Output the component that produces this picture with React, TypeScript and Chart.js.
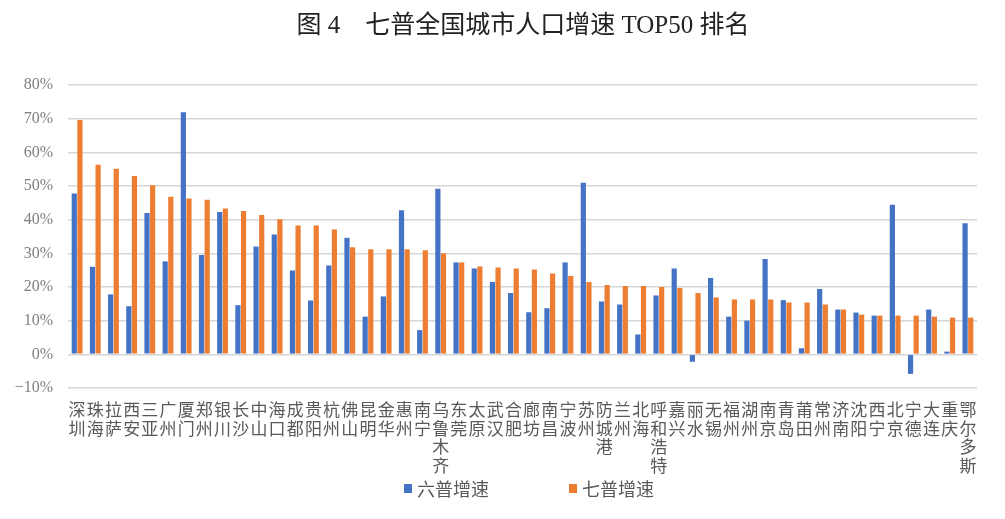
import React, { useEffect, useRef } from "react";
import { Chart, registerables } from "chart.js";

Chart.register(...registerables);

const cities: string[] = [
  "深圳", "珠海", "拉萨", "西安", "三亚", "广州", "厦门", "郑州", "银川", "长沙",
  "中山", "海口", "成都", "贵阳", "杭州", "佛山", "昆明", "金华", "惠州", "南宁",
  "乌鲁木齐", "东莞", "太原", "武汉", "合肥", "廊坊", "南昌", "宁波", "苏州", "防城港",
  "兰州", "北海", "呼和浩特", "嘉兴", "丽水", "无锡", "福州", "湖州", "南京", "青岛",
  "莆田", "常州", "济南", "沈阳", "西宁", "北京", "宁德", "大连", "重庆", "鄂尔多斯",
];

const sixthCensus: number[] = [
  47.8, 26.0, 17.8, 14.3, 42.0, 27.6, 71.9, 29.5, 42.3, 14.6,
  32.0, 35.6, 24.9, 16.0, 26.4, 34.6, 11.2, 17.2, 42.8, 7.2,
  49.2, 27.3, 25.5, 21.5, 18.2, 12.5, 13.7, 27.3, 51.0, 15.7,
  14.8, 5.9, 17.5, 25.5, -2.2, 22.7, 11.2, 10.0, 28.3, 16.1,
  1.8, 19.4, 13.3, 12.4, 11.5, 44.4, -5.8, 13.3, 0.8, 38.9,
];

const seventhCensus: number[] = [
  69.6, 56.3, 55.1, 53.0, 50.2, 46.8, 46.3, 45.9, 43.3, 42.6,
  41.4, 40.1, 38.3, 38.3, 37.1, 31.8, 31.2, 31.2, 31.2, 30.9,
  30.0, 27.3, 26.1, 25.8, 25.5, 25.2, 24.0, 23.3, 21.5, 20.6,
  20.3, 20.3, 20.0, 19.7, 18.2, 16.9, 16.3, 16.3, 16.3, 15.4,
  15.4, 14.8, 13.3, 11.8, 11.5, 11.5, 11.5, 11.2, 10.9, 10.9,
];

const seriesNames: string[] = ["六普增速", "七普增速"];
const seriesColors: string[] = ["#4472C4", "#ED7D31"];
const titleText = "图 4　七普全国城市人口增速 TOP50 排名";

export default function App() {
  const ref = useRef<HTMLCanvasElement | null>(null);

  useEffect(() => {
    if (!ref.current) return;
    const labels = cities.map((c) => c.split(""));
    const chart = new Chart(ref.current, {
      type: "bar",
      data: {
        labels,
        datasets: [
          {
            label: seriesNames[0],
            data: sixthCensus,
            backgroundColor: seriesColors[0],
            categoryPercentage: 0.62,
            barPercentage: 0.92,
          },
          {
            label: seriesNames[1],
            data: seventhCensus,
            backgroundColor: seriesColors[1],
            categoryPercentage: 0.62,
            barPercentage: 0.92,
          },
        ],
      },
      options: {
        responsive: false,
        animation: false,
        layout: { padding: { left: 0, right: 28, top: 85, bottom: 31 } },
        plugins: {
          title: { display: false },
          legend: { display: false },
          tooltip: { enabled: false },
        },
        scales: {
          x: {
            afterFit: (scale: any) => {
              scale.height = 100;
            },
            grid: { display: false, drawTicks: false },
            border: { display: false },
            ticks: {
              autoSkip: false,
              maxRotation: 0,
              minRotation: 0,
              padding: 12,
              color: "#595959",
              font: { family: "'Noto Sans CJK SC', sans-serif", size: 17, lineHeight: 1.1 },
            },
          },
          y: {
            min: -10,
            max: 80,
            afterFit: (scale: any) => {
              scale.width = 68;
            },
            grid: { color: "#d6d6d6", lineWidth: 1.5, drawTicks: false },
            border: { display: false },
            ticks: {
              stepSize: 10,
              padding: 15,
              color: "#7f7f7f",
              font: { family: "'Liberation Serif', serif", size: 16 },
              callback: (v: any) => (Number(v) < 0 ? "−" + Math.abs(Number(v)) : String(v)) + "%",
            },
          },
        },
      },
    });
    return () => chart.destroy();
  }, []);

  const legendItem = (i: number, left: number) => (
    <div
      key={i}
      style={{
        position: "absolute",
        left,
        top: 477,
        display: "flex",
        alignItems: "center",
        fontFamily: "'Noto Sans CJK SC', sans-serif",
        fontSize: 18,
        color: "#595959",
        lineHeight: "22px",
      }}
    >
      <span style={{ display: "inline-block", width: 8, height: 9, background: seriesColors[i], marginRight: 5 }} />
      <span>{seriesNames[i]}</span>
    </div>
  );

  return (
    <div style={{ position: "fixed", left: 0, top: 0, width: 1005, height: 519, background: "#fff" }}>
      <canvas ref={ref} width={1005} height={519} style={{ position: "absolute", left: 0, top: 0 }} />
      <div
        style={{
          position: "absolute",
          left: 0,
          top: 10,
          width: 1046,
          textAlign: "center",
          fontFamily: "'Liberation Serif', 'Noto Sans CJK SC', serif",
          fontSize: 25,
          lineHeight: "30px",
          color: "#222",
          whiteSpace: "pre",
        }}
      >
        {titleText}
      </div>
      {legendItem(0, 404)}
      {legendItem(1, 569)}
    </div>
  );
}
